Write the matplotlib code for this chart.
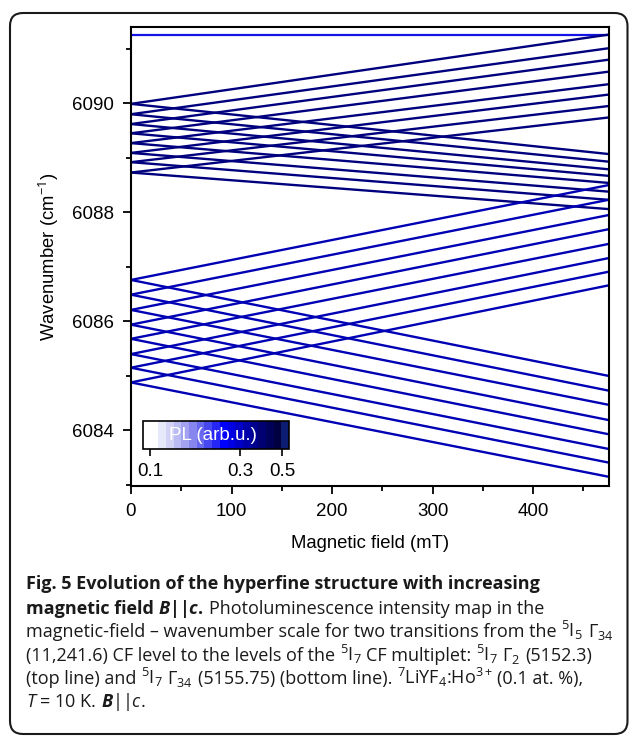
import numpy as np
import matplotlib
matplotlib.use("Agg")
import matplotlib.pyplot as plt
from matplotlib.colors import ListedColormap, LogNorm
from matplotlib.cm import ScalarMappable
from matplotlib.patches import FancyBboxPatch
from matplotlib.ticker import NullLocator, MultipleLocator, FixedLocator

plt.rcParams['font.family'] = ['Liberation Sans', 'DejaVu Sans']
plt.rcParams['mathtext.fontset'] = 'custom'
plt.rcParams['mathtext.rm'] = 'Open Sans'
plt.rcParams['mathtext.it'] = 'Open Sans:italic'
plt.rcParams['mathtext.bf'] = 'Open Sans:bold'
try:
    plt.rcParams['mathtext.bfit'] = 'Open Sans:italic:bold'
    HAS_BFIT = True
except KeyError:
    HAS_BFIT = False

# ---------------- data ----------------
field_range = [0, 475]            # mT, start / end of each line
top_line = 6091.25                # horizontal line (cm-1)
upper_start = [6089.99, 6089.80, 6089.62, 6089.45, 6089.27, 6089.09, 6088.92, 6088.73]
upper_rise_end = [6091.26, 6091.01, 6090.80, 6090.58, 6090.35, 6090.16, 6089.95, 6089.74]
upper_fall_end = [6089.07, 6088.93, 6088.79, 6088.67, 6088.54, 6088.38, 6088.23, 6088.06]
lower_start = [6086.76, 6086.49, 6086.21, 6085.94, 6085.68, 6085.40, 6085.15, 6084.88]
lower_rise_end = [6088.50, 6088.23, 6087.95, 6087.69, 6087.42, 6087.16, 6086.91, 6086.66]
lower_fall_end = [6085.00, 6084.73, 6084.47, 6084.19, 6083.93, 6083.66, 6083.41, 6083.15]
x_ticks = [0, 100, 200, 300, 400]
y_ticks = [6084, 6086, 6088, 6090]
cbar_range = [0.092, 0.545]
cbar_ticks = [0.1, 0.3, 0.5]
cbar_tick_labels = ['0.1', '0.3', '0.5']

# ---------------- figure ----------------
W, H = 629, 736
fig = plt.figure(figsize=(W / 100, H / 100), dpi=100)

def fx(px):
    return px / W

def fy(py):
    return 1 - py / H

# rounded frame
frame = FancyBboxPatch((0.10, 0.02), 6.175, 7.21,
                       boxstyle="round,pad=0,rounding_size=0.13",
                       transform=fig.dpi_scale_trans, fill=False,
                       edgecolor='#1a1a1a', linewidth=1.5)
fig.add_artist(frame)

ax = fig.add_axes([fx(131), fy(486), (608.5 - 131) / W, (486 - 27) / H])

upper_color = '#00007e'
lower_color = '#0000b4'
top_color = '#1414e6'
lw = 1.7

ax.plot(field_range, [top_line, top_line], color=top_color, lw=1.6, solid_capstyle='butt')
for s, e in zip(upper_start, upper_rise_end):
    ax.plot(field_range, [s, e], color=upper_color, lw=lw, solid_capstyle='butt')
for s, e in zip(upper_start, upper_fall_end):
    ax.plot(field_range, [s, e], color=upper_color, lw=lw, solid_capstyle='butt')
for s, e in zip(lower_start, lower_rise_end):
    ax.plot(field_range, [s, e], color=lower_color, lw=lw, solid_capstyle='butt')
for s, e in zip(lower_start, lower_fall_end):
    ax.plot(field_range, [s, e], color=lower_color, lw=lw, solid_capstyle='butt')

ax.set_xlim(0, 475)
ax.set_ylim(6082.98, 6091.40)
ax.xaxis.set_major_locator(FixedLocator(x_ticks))
ax.xaxis.set_minor_locator(MultipleLocator(50))
ax.yaxis.set_major_locator(FixedLocator(y_ticks))
ax.yaxis.set_minor_locator(MultipleLocator(1))
ax.tick_params(which='major', direction='out', length=6, width=1.3, labelsize=13.5, pad=6)
ax.tick_params(which='minor', direction='out', length=3.5, width=1.3)
for sp in ax.spines.values():
    sp.set_linewidth(1.5)
ax.set_xlabel('Magnetic field (mT)', fontsize=13.3, labelpad=11)
ax.set_ylabel(r'Wavenumber (cm$^{-1}$)', fontsize=13.3, labelpad=8)

# colorbar
colors = ['#ffffff', '#ffffff', '#e8e8fb', '#d2d2f7', '#bbbbf3', '#a2a2f0',
          '#8686ee', '#6868ef', '#4848f1', '#2626f6', '#0000ff', '#0000e2',
          '#0000c6', '#0000aa', '#00008e', '#000072', '#000058', '#000040',
          '#0c1c70']
cmap = ListedColormap(colors)
sm = ScalarMappable(norm=LogNorm(*cbar_range), cmap=cmap)
cax = fig.add_axes([fx(143), fy(449), (289 - 143) / W, 28 / H])
cb = fig.colorbar(sm, cax=cax, orientation='horizontal')
cb.set_ticks(cbar_ticks)
cb.set_ticklabels(cbar_tick_labels)
cax.xaxis.set_minor_locator(NullLocator())
cax.tick_params(which='major', direction='out', length=5, width=1.2, labelsize=13.5, pad=5)
cb.outline.set_linewidth(1.2)
cax.text(0.48, 0.47, 'PL (arb.u.)', transform=cax.transAxes, color='white',
         fontsize=13.5, ha='center', va='center')

# ---------------- caption ----------------
cap_fs = 13.0
renderer = fig.canvas.get_renderer()

def style_kw(st):
    kw = dict(family='Open Sans', fontsize=cap_fs, color='#1a1a1a')
    if 'b' in st:
        kw['weight'] = 'bold'
    if 'i' in st:
        kw['style'] = 'italic'
    return kw

space_cache = {}

def space_width(st):
    if st not in space_cache:
        t1 = fig.text(0, 0, 'x x', **style_kw(st))
        t2 = fig.text(0, 0, 'xx', **style_kw(st))
        space_cache[st] = (t1.get_window_extent(renderer).width
                           - t2.get_window_extent(renderer).width)
        t1.remove()
        t2.remove()
    return space_cache[st]

def draw_line(segments, x0, y0):
    x = x0
    for seg in segments:
        txt, st, sp = seg[:3]
        if sp:
            x += space_width(st)
        t = fig.text(x / W, fy(y0), txt, va='baseline', ha='left', **style_kw(st))
        x += t.get_window_extent(renderer).width

if HAS_BFIT:
    bc_bold = r'$\mathbfit{B}\mathbf{||}\mathbfit{c}\mathbf{.}$'
    bc_last = r'$\mathbfit{B}||\mathit{c}.$'
else:
    bc_bold = r'$\mathbf{B||c.}$'
    bc_last = r'$\mathbf{B}||\mathit{c}.$'

lines = [
    [('Fig. 5 Evolution of the hyperfine structure with increasing', 'b', False)],
    [('magnetic field', 'b', False), (bc_bold, 'b', True),
     ('Photoluminescence intensity map in the', 'r', True)],
    [(r'magnetic-field – wavenumber scale for two transitions from the', 'r', False),
     (r'$^{5}$I$_{5}$', 'r', True), (r'Γ$_{34}$', 'r', True)],
    [(r'(11,241.6) CF level to the levels of the', 'r', False),
     (r'$^{5}$I$_{7}$', 'r', True), ('CF multiplet:', 'r', True),
     (r'$^{5}$I$_{7}$', 'r', True), (r'Γ$_{2}$', 'r', True), ('(5152.3)', 'r', True)],
    [('(top line) and', 'r', False), (r'$^{5}$I$_{7}$', 'r', True),
     (r'Γ$_{34}$', 'r', True), ('(5155.75) (bottom line).', 'r', True),
     (r'$^{7}$LiYF$_{4}$:Ho$^{3+}$', 'r', True), ('(0.1 at. %),', 'r', True)],
    [(r'$\mathit{T}$ = 10 K.', 'r', False), (bc_last, 'r', True)],
]
baselines = [589, 614, 637, 661, 684, 707]
for segs, yb in zip(lines, baselines):
    draw_line(segs, 26, yb)

fig.savefig('out.png', dpi=100)
